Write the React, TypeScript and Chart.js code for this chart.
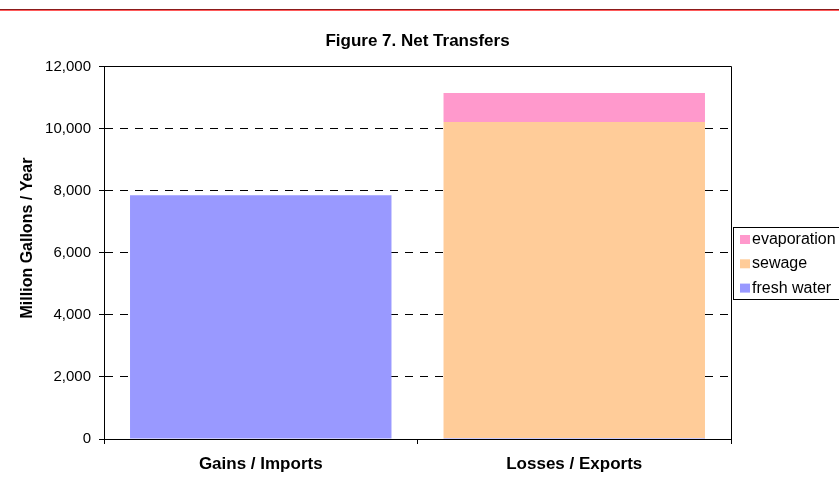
import React, { useEffect, useRef } from "react";
import { Chart, registerables } from "chart.js";

Chart.register(...registerables);

const categories = ["Gains / Imports", "Losses / Exports"];
const freshWater = [7850, 30];
const sewage = [0, 10180];
const evaporation = [0, 930];
const yTickValues = [0, 2000, 4000, 6000, 8000, 10000, 12000];
const chartTitle = "Figure 7. Net Transfers";
const yTitle = "Million Gallons / Year";

const FONT = "Arial, 'Liberation Sans', sans-serif";

const framePlugin = {
  id: "frameAndLegend",
  afterDraw(chart: any) {
    const { ctx, chartArea } = chart;
    ctx.save();
    // plot frame (top and right)
    ctx.strokeStyle = "#000";
    ctx.lineWidth = 1;
    ctx.beginPath();
    ctx.moveTo(Math.round(chartArea.left) + 0.5, Math.round(chartArea.top) + 0.5);
    ctx.lineTo(Math.round(chartArea.right) + 0.5, Math.round(chartArea.top) + 0.5);
    ctx.lineTo(Math.round(chartArea.right) + 0.5, Math.round(chartArea.bottom) + 0.5);
    ctx.stroke();

    // y axis title
    ctx.fillStyle = "#000";
    ctx.font = `bold 16px ${FONT}`;
    ctx.textAlign = "center";
    ctx.textBaseline = "middle";
    ctx.translate(28, 238);
    ctx.rotate(-Math.PI / 2);
    ctx.fillText(yTitle, 0, 0);
    ctx.setTransform(1, 0, 0, 1, 0, 0);

    // legend
    const lx = chartArea.right + 2;
    ctx.strokeStyle = "#000";
    ctx.strokeRect(lx + 0.5, 227.5, 120, 72);
    const items = chart.data.datasets.slice().reverse();
    ctx.font = `16px ${FONT}`;
    ctx.textAlign = "left";
    ctx.textBaseline = "middle";
    items.forEach((ds: any, i: number) => {
      const cy = 239.5 + i * 24.3;
      ctx.fillStyle = ds.backgroundColor;
      ctx.fillRect(lx + 7, cy - 4.5, 10, 9);
      ctx.fillStyle = "#000";
      ctx.fillText(ds.label, lx + 19, cy);
    });
    ctx.restore();
  },
};

export default function App() {
  const ref = useRef<HTMLCanvasElement>(null);
  useEffect(() => {
    document.body.style.margin = "0";
    Chart.defaults.color = "#000";
    Chart.defaults.font.family = FONT;
    const chart = new Chart(ref.current as HTMLCanvasElement, {
      type: "bar",
      data: {
        labels: categories,
        datasets: [
          { label: "fresh water", data: freshWater, backgroundColor: "#9999FF" },
          { label: "sewage", data: sewage, backgroundColor: "#FFCC99" },
          { label: "evaporation", data: evaporation, backgroundColor: "#FF99CC" },
        ],
      },
      options: {
        responsive: false,
        animation: false,
        devicePixelRatio: 1,
        layout: { padding: { left: 0, right: 108, top: 0, bottom: 0 } },
        datasets: { bar: { barPercentage: 0.834, categoryPercentage: 1 } },
        plugins: {
          legend: { display: false },
          tooltip: { enabled: false },
          title: {
            display: true,
            text: chartTitle,
            fullSize: false,
            color: "#000",
            font: { family: FONT, size: 17, weight: "bold", lineHeight: 1.2 },
            padding: { top: 31, bottom: 15 },
          },
        },
        scales: {
          x: {
            stacked: true,
            afterFit: (s: any) => {
              s.height = 52;
            },
            grid: {
              offset: true,
              drawOnChartArea: false,
              drawTicks: true,
              tickLength: 5,
              color: "#000",
              tickColor: "#000",
            },
            border: { display: true, color: "#000", width: 1 },
            ticks: {
              color: "#000",
              padding: 10,
              font: { family: FONT, size: 17, weight: "bold" },
            },
          },
          y: {
            stacked: true,
            min: 0,
            max: 12000,
            afterFit: (s: any) => {
              s.width = 104;
            },
            afterBuildTicks: (s: any) => {
              s.ticks = yTickValues.map((v) => ({ value: v }));
            },
            grid: {
              color: "#000",
              lineWidth: 1,
              drawTicks: true,
              tickLength: 5,
              tickColor: "#000",
            },
            border: { display: true, color: "#000", width: 1, dash: [8, 7] },
            ticks: {
              color: "#000",
              padding: 8,
              font: { family: FONT, size: 15 },
              callback: (v: any) => Number(v).toLocaleString("en-US"),
            },
          },
        },
      },
      plugins: [framePlugin],
    } as any);
    return () => chart.destroy();
  }, []);

  return (
    <div style={{ position: "relative", width: 839, height: 491, overflow: "hidden" }}>
      <canvas ref={ref} width={839} height={491} style={{ display: "block" }} />
      <div style={{ position: "absolute", left: 0, top: 9, width: 839, height: 1, background: "#8b1a1a" }} />
      <div style={{ position: "absolute", left: 0, top: 10, width: 839, height: 1, background: "#ff5a5a" }} />
    </div>
  );
}
